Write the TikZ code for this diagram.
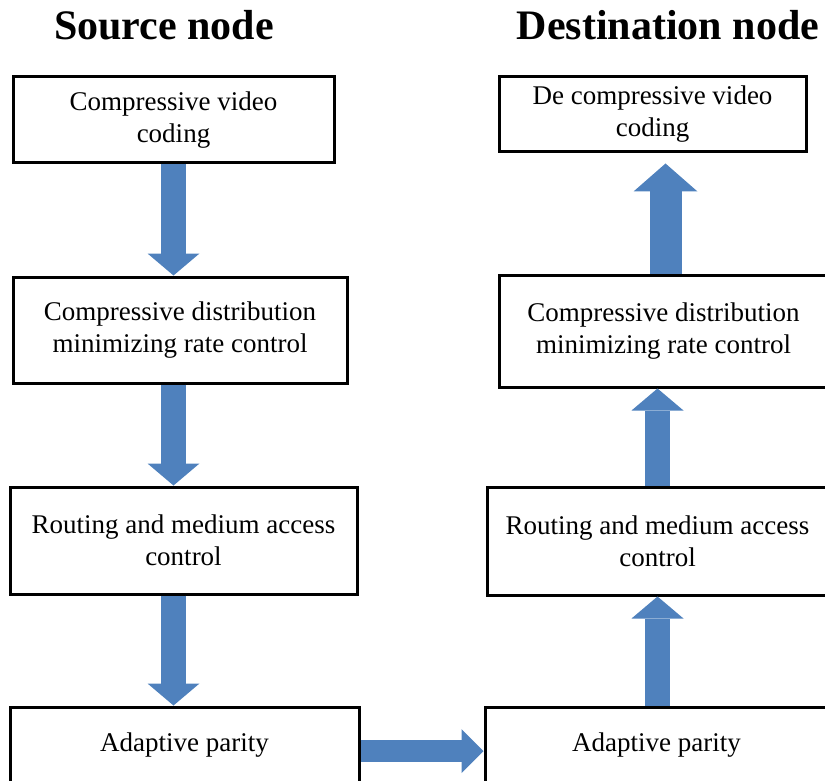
\documentclass[tikz,border=0pt]{standalone}
\usepackage{fontspec}
\setmainfont{Liberation Serif}
\usetikzlibrary{arrows.meta}
\definecolor{flowblue}{HTML}{4F81BD}

\begin{document}
\begin{tikzpicture}[x=0.5pt,y=-0.5pt,
    stage/.style={draw,line width=1.5pt,rectangle,inner sep=0pt,align=center,font=\fontsize{13.5}{16}\selectfont},
    title/.style={font=\fontsize{21}{25}\selectfont\bfseries},
    flow/.style={draw=flowblue,line width=12.5pt,-{Triangle[length=11pt,width=26pt,line width=0pt]}}]
    %% Frame
    \useasboundingbox (0,0) rectangle (825,781);
    \clip (0,0) rectangle (825,781);
    %% Titles
    \node[title] (src) at (164,25) {Source node};
    \node[title] (dst) at (668,25) {Destination node};
    %% Source side
    \node[stage,minimum width=160.5pt,minimum height=43pt] (L1) at (173.5,120) {Compressive video\\coding};
    \node[stage,minimum width=167pt,minimum height=53pt] (L2) at (180,330) {Compressive distribution\\minimizing rate control};
    \node[stage,minimum width=173.5pt,minimum height=53.5pt] (L3) at (183.5,540.5) {Routing and medium access\\control};
    \node[stage,minimum width=174.5pt,minimum height=38pt] (L4) at (184.5,745) {Adaptive parity};
    %% Destination side
    \node[stage,minimum width=153.5pt,minimum height=37.5pt] (R1) at (652.5,114.5) {De compressive video\\coding};
    \node[stage,minimum width=164.5pt,minimum height=56pt] (R2) at (663.5,331) {Compressive distribution\\minimizing rate control};
    \node[stage,minimum width=170.5pt,minimum height=54pt] (R3) at (657.5,541) {Routing and medium access\\control};
    \node[stage,minimum width=171.5pt,minimum height=38pt] (R4) at (656.5,745) {Adaptive parity};
    %% Flow down
    \draw[flow] (L1.south) -- (L1.south |- L2.north);
    \draw[flow] (L1.south |- L2.south) -- (L1.south |- L3.north);
    \draw[flow] (L1.south |- L3.south) -- (L1.south |- L4.north);
    %% Across
    \draw[flow,line width=11pt,-{Triangle[length=11pt,width=22pt,line width=0pt]}] ([yshift=-3pt]L4.east) -- ([yshift=-3pt]R4.west);
    %% Flow up
    \draw[flow] (R3.north |- R4.north) -- (R3.north |- R3.south);
    \draw[flow] (R3.north) -- (R3.north |- R2.south);
    \draw[flow,line width=16pt,-{Triangle[length=14pt,width=32pt,line width=0pt]},shorten >=5pt] ([xshift=1pt]R2.north) -- ([xshift=1pt]R2.north |- R1.south);
\end{tikzpicture}
\end{document}
